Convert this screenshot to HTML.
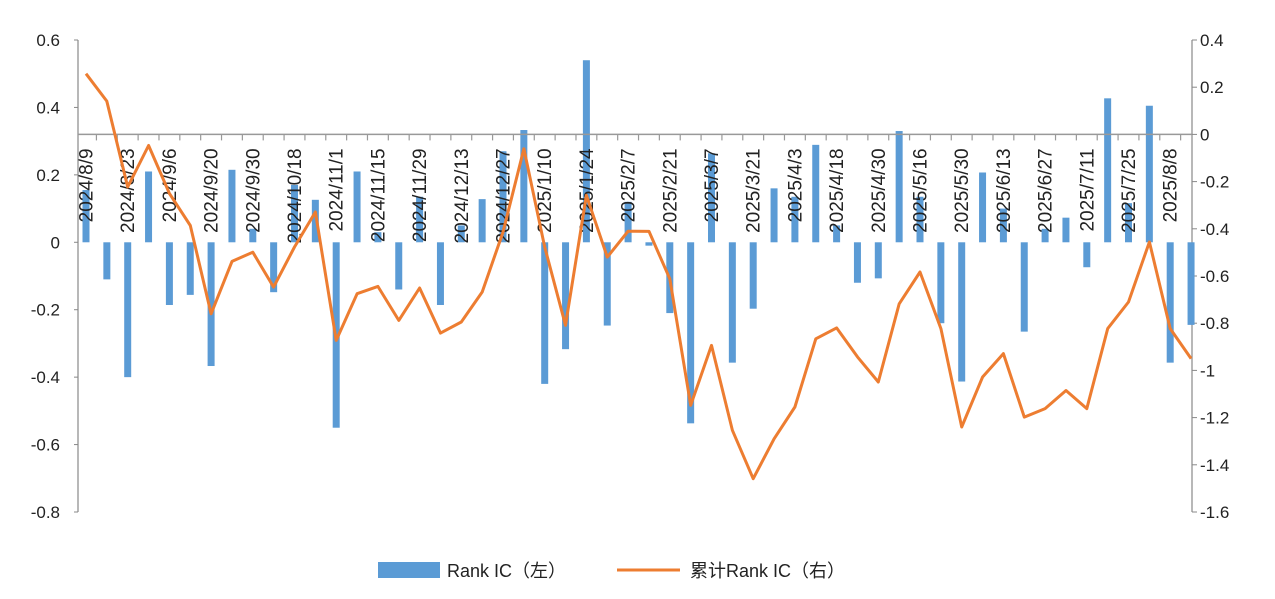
<!DOCTYPE html>
<html><head><meta charset="utf-8"><style>
body{margin:0;background:#fff;}
svg text{font-family:"Liberation Sans","Noto Sans CJK SC",sans-serif;fill:#222;}
</style></head><body>
<svg id="chart" width="1275" height="594" viewBox="0 0 1275 594" xmlns="http://www.w3.org/2000/svg">
<g id="axes"></g>
<g id="bars"></g>
<g id="xaxis"></g>
<g id="line"></g>
<g>
<rect x="378" y="562" width="62" height="16" fill="#5b9bd5"/>
<text x="447" y="577" font-size="18">Rank IC（左）</text>
<line x1="617" y1="570" x2="680" y2="570" stroke="#ed7d31" stroke-width="3"/>
<text x="690" y="577" font-size="18">累计Rank IC（右）</text>
</g>
</svg>
<script>
const labels = ["2024/8/9","","2024/8/23","","2024/9/6","","2024/9/20","","2024/9/30","","2024/10/18","","2024/11/1","","2024/11/15","","2024/11/29","","2024/12/13","","2024/12/27","","2025/1/10","","2025/1/24","","2025/2/7","","2025/2/21","","2025/3/7","","2025/3/21","","2025/4/3","","2025/4/18","","2025/4/30","","2025/5/16","","2025/5/30","","2025/6/13","","2025/6/27","","2025/7/11","","2025/7/25","","2025/8/8",""];
const rankIC = [0.155,-0.11,-0.40,0.21,-0.186,-0.156,-0.367,0.215,0.04,-0.148,0.17,0.126,-0.55,0.21,0.03,-0.14,0.135,-0.186,0.05,0.128,0.27,0.333,-0.42,-0.317,0.54,-0.247,0.12,-0.01,-0.21,-0.537,0.264,-0.357,-0.197,0.16,0.135,0.289,0.05,-0.12,-0.107,0.33,0.135,-0.24,-0.413,0.207,0.1,-0.265,0.04,0.073,-0.074,0.427,0.116,0.405,-0.357,-0.245];
const cumIC = [0.257,0.141,-0.223,-0.047,-0.25,-0.386,-0.76,-0.538,-0.499,-0.647,-0.477,-0.329,-0.873,-0.675,-0.644,-0.788,-0.651,-0.842,-0.795,-0.668,-0.414,-0.061,-0.477,-0.809,-0.258,-0.52,-0.41,-0.411,-0.612,-1.148,-0.894,-1.254,-1.459,-1.29,-1.155,-0.866,-0.82,-0.943,-1.049,-0.718,-0.583,-0.823,-1.24,-1.028,-0.929,-1.198,-1.162,-1.085,-1.162,-0.823,-0.71,-0.456,-0.823,-0.95];
const leftTicks = [0.6,0.4,0.2,0,-0.2,-0.4,-0.6,-0.8];
const rightTicks = [0.4,0.2,0,-0.2,-0.4,-0.6,-0.8,-1,-1.2,-1.4,-1.6];

const NS="http://www.w3.org/2000/svg";
const X0=86, STEP=20.85, AXL=78, AXR=1192, TOP=40, BOT=512;
const xPos=i=>X0+i*STEP;
const yL=v=>TOP+(0.6-v)*(BOT-TOP)/1.4;
const yR=v=>TOP+(0.4-v)*(BOT-TOP)/2.0;
function mk(tag,attrs,parent){const e=document.createElementNS(NS,tag);for(const k in attrs)e.setAttribute(k,attrs[k]);parent.appendChild(e);return e;}
const axes=document.getElementById('axes');
let l=mk('line',{x1:AXL,y1:TOP,x2:AXL,y2:BOT,stroke:'#888','stroke-width':1.2},axes);


let r=mk('line',{x1:AXR,y1:TOP,x2:AXR,y2:BOT,stroke:'#888','stroke-width':1.2},axes);


leftTicks.forEach(v=>{
  const t=mk('text',{x:60,y:yL(v)+6,'font-size':17,'text-anchor':'end'},axes);t.textContent=(v===0?'0':v.toFixed(1));
  
  
  const tk=mk('line',{x1:AXL-4,y1:yL(v),x2:AXL,y2:yL(v),stroke:'#888'},axes);
  
  
});
rightTicks.forEach(v=>{
  const t=mk('text',{x:1200,y:yR(v)+6,'font-size':17},axes);t.textContent=(v===0?'0':(Number.isInteger(v)?String(v):v.toFixed(1)));
  
  
  const tk=mk('line',{x1:AXR,y1:yR(v),x2:AXR+5,y2:yR(v),stroke:'#888'},axes);
  
  
});
const bars=document.getElementById('bars');
rankIC.forEach((v,i)=>{
  const y0=yL(0),y1=yL(v);
  const b=mk('rect',{x:xPos(i)-3.5,y:Math.min(y0,y1),width:7,height:Math.abs(y1-y0),fill:'#5b9bd5'},bars);
  
  
});
const xa=document.getElementById('xaxis');
const y0R=yR(0);
let xl=mk('line',{x1:AXL,y1:y0R,x2:AXR,y2:y0R,stroke:'#999','stroke-width':1.5},xa);


for(let i=0;i<=labels.length;i++){
  const tx=xPos(i)-STEP/2;
  if(tx<AXL||tx>AXR)continue;
  const tk=mk('line',{x1:tx,y1:y0R,x2:tx,y2:y0R+6,stroke:'#999','stroke-width':1.2},xa);
  
  
}
labels.forEach((s,i)=>{
  if(!s)return;
  const x=xPos(i)+6.5,y=y0R+14;
  const t=mk('text',{x:x,y:y,'font-size':19,'text-anchor':'end',transform:`rotate(-90 ${x} ${y})`},xa);
  t.textContent=s;
  
  
});
const lg=document.getElementById('line');
const pts=cumIC.map((v,i)=>xPos(i).toFixed(1)+','+yR(v).toFixed(1)).join(' ');
const pl=mk('polyline',{points:pts,fill:'none',stroke:'#ed7d31','stroke-width':3,'stroke-linejoin':'round'},lg);


</script>
</body></html>
